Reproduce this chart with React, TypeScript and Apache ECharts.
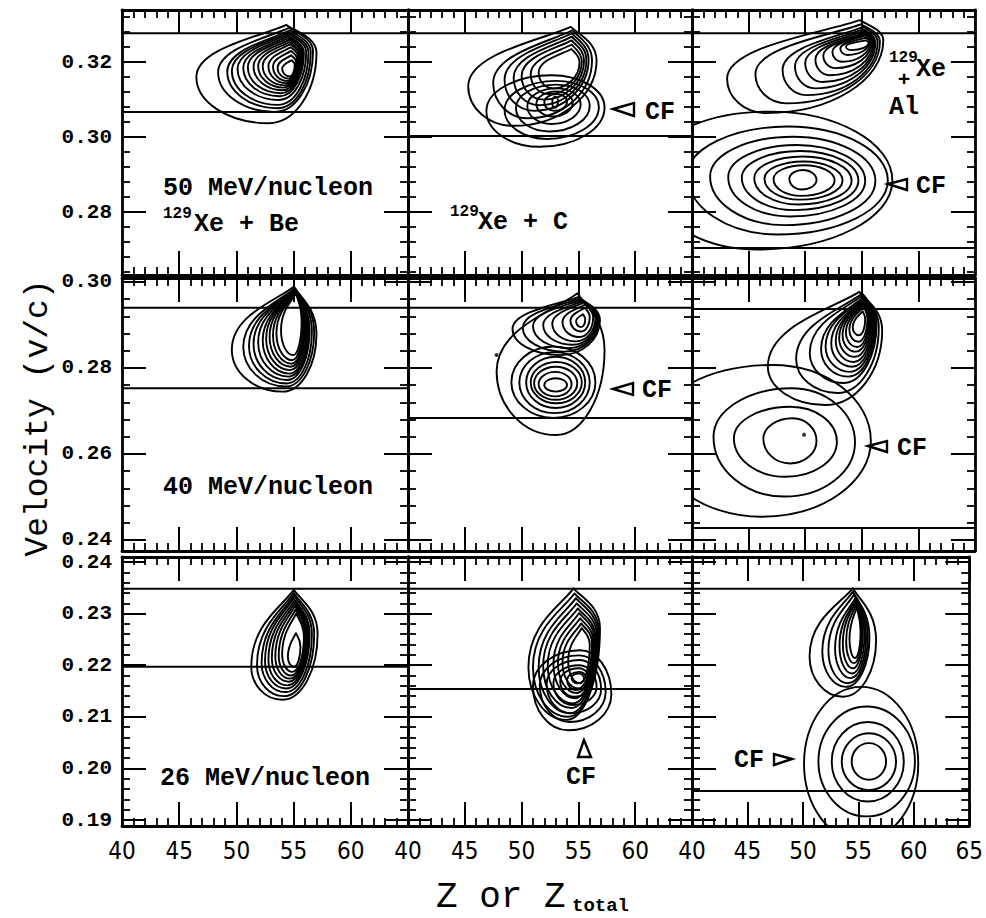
import React, { useEffect, useRef } from "react";
import * as echarts from "echarts";

// ---- axis values ----
const zMin = 40;
const zMax = 65;
const zStep = 5;

// velocity range of each row (50, 40, 26 MeV/nucleon)
const vRange = [
  [0.2632, 0.3339],
  [0.23744, 0.30093],
  [0.18884, 0.24097],
];
const vMajor = [
  [0.28, 0.3, 0.32],
  [0.24, 0.26, 0.28, 0.3],
  [0.19, 0.2, 0.21, 0.22, 0.23, 0.24],
];
const vMinorStep = [0.004, 0.004, 0.002];

const beamLabels = ["50 MeV/nucleon", "40 MeV/nucleon", "26 MeV/nucleon"];

// horizontal velocity markers, [row][column]
const vLines = [
  [[0.3277, 0.3067], [0.3277, 0.3003], [0.3277, 0.2704]],
  [[0.294, 0.2753], [0.294, 0.2684], [0.2937, 0.2428]],
  [[0.2348, 0.2197], [0.2348, 0.2154], [0.2348, 0.1956]],
];

// ---- contour rings: [Z left, Z right, v bottom, v top] ----
const xeBe50 = [
  [46.5, 57.0, 0.3037, 0.3299],
  [48.4, 56.7, 0.3067, 0.3292],
  [49.2, 56.5, 0.3077, 0.3285],
  [49.6, 56.3, 0.3086, 0.328],
  [50.1, 56.1, 0.3099, 0.3275],
  [50.6, 55.9, 0.3109, 0.327],
  [51.0, 55.8, 0.3117, 0.3265],
  [51.5, 55.7, 0.3125, 0.326],
  [51.9, 55.6, 0.3132, 0.3254],
  [52.3, 55.5, 0.3138, 0.3248],
  [52.8, 55.4, 0.3144, 0.324],
  [53.2, 55.3, 0.315, 0.323],
  [53.6, 55.2, 0.3156, 0.3218],
  [54.0, 55.1, 0.3162, 0.3205],
];
const xeCPlf50 = [
  [45.3, 56.6, 0.303, 0.3294],
  [47.5, 56.2, 0.305, 0.3285],
  [48.5, 55.9, 0.307, 0.3277],
  [49.3, 55.7, 0.3085, 0.3268],
  [50.0, 55.5, 0.31, 0.3258],
  [50.8, 55.3, 0.3115, 0.3247],
  [51.5, 55.1, 0.313, 0.3235],
];
const xeCCf50 = [
  [46.9, 57.3, 0.2974, 0.3165],
  [48.5, 56.8, 0.2995, 0.315],
  [49.5, 56.0, 0.3015, 0.314],
  [50.5, 55.2, 0.3035, 0.313],
  [51.3, 54.5, 0.3055, 0.3122],
  [52.0, 54.0, 0.307, 0.3115],
  [52.7, 53.2, 0.3078, 0.3108],
];
const xeAlPlf50 = [
  [43.1, 56.9, 0.3064, 0.3312],
  [45.6, 56.6, 0.309, 0.3301],
  [48.0, 56.4, 0.3112, 0.3294],
  [49.1, 56.2, 0.313, 0.3288],
  [50.0, 56.1, 0.3147, 0.3283],
  [50.9, 56.0, 0.3165, 0.3278],
  [51.6, 55.9, 0.3184, 0.3274],
  [52.4, 55.8, 0.3201, 0.3271],
  [53.1, 55.7, 0.3219, 0.3265],
  [53.6, 55.6, 0.3232, 0.3258],
];
const xeAlCf50 = [
  [36.0, 57.7, 0.27, 0.3068],
  [39.6, 57.3, 0.274, 0.3028],
  [41.6, 56.2, 0.2765, 0.3001],
  [43.2, 55.3, 0.2788, 0.2979],
  [44.4, 54.7, 0.2805, 0.2963],
  [45.5, 54.1, 0.282, 0.2948],
  [46.4, 53.3, 0.2833, 0.2935],
  [47.2, 52.6, 0.2843, 0.2925],
  [48.6, 51.0, 0.286, 0.2912],
];

const xeBe40 = [
  [49.6, 57.0, 0.2745, 0.2989],
  [50.6, 56.8, 0.2757, 0.2986],
  [51.1, 56.6, 0.2764, 0.2984],
  [51.5, 56.4, 0.2772, 0.2982],
  [51.9, 56.3, 0.278, 0.298],
  [52.3, 56.2, 0.2787, 0.2979],
  [52.6, 56.1, 0.2795, 0.2978],
  [52.9, 56.0, 0.2803, 0.2977],
  [53.2, 55.9, 0.281, 0.2976],
  [53.5, 55.8, 0.2818, 0.2975],
  [53.9, 55.7, 0.283, 0.2974],
];
const xeCPlf40 = [
  [47.8, 57.3, 0.2644, 0.2974],
  [49.2, 56.9, 0.283, 0.2965],
  [50.1, 56.8, 0.2838, 0.2962],
  [51.0, 56.7, 0.2846, 0.2959],
  [51.9, 56.6, 0.2854, 0.2956],
  [52.7, 56.5, 0.2862, 0.2953],
  [53.6, 56.3, 0.2872, 0.2948],
  [54.3, 56.0, 0.2885, 0.294],
  [54.8, 55.6, 0.2895, 0.2925],
];
const xeCCf40 = [
  [49.1, 56.5, 0.2684, 0.285],
  [49.8, 56.0, 0.2695, 0.2837],
  [50.4, 55.6, 0.2707, 0.2826],
  [50.8, 55.3, 0.2718, 0.2814],
  [51.1, 54.9, 0.2726, 0.2803],
  [51.5, 54.4, 0.2734, 0.2791],
  [52.0, 54.0, 0.2745, 0.2776],
];
const xeAlPlf40 = [
  [46.7, 56.8, 0.2714, 0.2977],
  [49.2, 56.5, 0.2742, 0.2973],
  [50.4, 56.3, 0.2765, 0.297],
  [51.4, 56.2, 0.278, 0.2967],
  [51.8, 56.1, 0.2791, 0.2964],
  [52.3, 56.0, 0.2803, 0.2961],
  [52.7, 55.9, 0.2814, 0.2958],
  [53.0, 55.8, 0.2826, 0.2955],
  [53.3, 55.7, 0.2838, 0.2951],
  [53.6, 55.6, 0.2849, 0.2947],
  [53.9, 55.5, 0.2861, 0.2942],
  [54.2, 55.3, 0.2876, 0.2932],
];
const xeAlCf40 = [
  [36.5, 55.8, 0.2454, 0.2807],
  [41.9, 54.4, 0.2501, 0.2753],
  [43.7, 52.8, 0.2547, 0.271],
  [46.3, 51.0, 0.2578, 0.2683],
];

const xeBe26 = [
  [51.3, 57.1, 0.2133, 0.2346],
  [51.8, 56.8, 0.214, 0.234],
  [52.2, 56.6, 0.2148, 0.2335],
  [52.5, 56.4, 0.2155, 0.233],
  [52.8, 56.3, 0.2161, 0.2325],
  [53.1, 56.2, 0.2168, 0.232],
  [53.4, 56.1, 0.2174, 0.2315],
  [53.7, 56.0, 0.218, 0.2308],
  [54.0, 55.9, 0.2187, 0.23],
  [54.5, 55.6, 0.2197, 0.2262],
];
const xeCPlf26 = [
  [50.6, 56.9, 0.2094, 0.2349],
  [51.0, 56.8, 0.21, 0.2339],
  [51.5, 56.7, 0.2107, 0.233],
  [51.9, 56.6, 0.2117, 0.232],
  [52.3, 56.5, 0.2126, 0.231],
  [52.8, 56.4, 0.2136, 0.2301],
  [53.2, 56.3, 0.2146, 0.2291],
  [53.6, 56.2, 0.2155, 0.2281],
  [54.1, 56.0, 0.2165, 0.2272],
];
const xeCCf26 = [
  [51.0, 57.9, 0.2074, 0.2229],
  [51.6, 57.4, 0.209, 0.2219],
  [52.2, 57.0, 0.2107, 0.221],
  [52.8, 56.6, 0.2123, 0.22],
  [53.4, 56.1, 0.2139, 0.2194],
  [54.0, 55.8, 0.2152, 0.2187],
  [54.4, 55.5, 0.2165, 0.2184],
];
const xeAlPlf26 = [
  [50.6, 56.6, 0.2139, 0.2349],
  [51.75, 56.0, 0.2158, 0.2343],
  [52.3, 55.85, 0.2165, 0.2337],
  [52.9, 55.7, 0.2175, 0.233],
  [53.3, 55.55, 0.2184, 0.2327],
  [53.6, 55.4, 0.2194, 0.2323],
  [53.9, 55.3, 0.2204, 0.2318],
  [54.2, 55.2, 0.2214, 0.2312],
];
const xeAlCf26 = [
  [50.1, 60.4, 0.186, 0.2158],
  [51.4, 60.1, 0.1907, 0.212],
  [52.6, 59.1, 0.1936, 0.209],
  [53.5, 58.4, 0.1958, 0.2068],
  [54.4, 57.5, 0.1978, 0.2049],
];

// centroid dots [Z, v]
const dots40C = [[47.8, 0.283]];
const dots40Al = [[49.9, 0.2645]];

// ---- drawing ----
type Shape = { ft: number; fb: number; gl: number; gr: number; ta: number; tb: number };
const pointed = (ft: number, fb: number, gl: number, gr: number): Shape => ({ ft, fb, gl, gr, ta: 0.28, tb: 0.22 });
const rounded = (ft: number, fb: number, gl: number, gr: number): Shape => ({ ft, fb, gl, gr, ta: 0.55, tb: 0 });

const families: { row: number; col: number; rings: number[][]; shape: Shape }[] = [
  { row: 0, col: 0, rings: xeBe50, shape: pointed(0.75, 0.6, 0.47, 0.72) },
  { row: 0, col: 1, rings: xeCCf50, shape: rounded(0.55, 0.45, 0.5, 0.55) },
  { row: 0, col: 1, rings: xeCPlf50, shape: pointed(0.8, 0.35, 0.4, 0.66) },
  { row: 0, col: 2, rings: xeAlCf50, shape: rounded(0.5, 0.45, 0.55, 0.5) },
  { row: 0, col: 2, rings: xeAlPlf50, shape: pointed(0.85, 0.25, 0.37, 0.78) },
  { row: 1, col: 0, rings: xeBe40, shape: pointed(0.73, 0.6, 0.4, 0.55) },
  { row: 1, col: 1, rings: xeCCf40, shape: rounded(0.5, 0.5, 0.5, 0.5) },
  { row: 1, col: 1, rings: xeCPlf40, shape: pointed(0.75, 0.55, 0.45, 0.6) },
  { row: 1, col: 2, rings: xeAlCf40, shape: rounded(0.55, 0.5, 0.55, 0.5) },
  { row: 1, col: 2, rings: xeAlPlf40, shape: pointed(0.8, 0.5, 0.34, 0.66) },
  { row: 2, col: 0, rings: xeBe26, shape: pointed(0.64, 0.47, 0.3, 0.6) },
  { row: 2, col: 1, rings: xeCCf26, shape: rounded(0.6, 0.45, 0.55, 0.45) },
  { row: 2, col: 1, rings: xeCPlf26, shape: pointed(0.63, 0.53, 0.4, 0.7) },
  { row: 2, col: 2, rings: xeAlCf26, shape: rounded(0.5, 0.5, 0.5, 0.5) },
  { row: 2, col: 2, rings: xeAlPlf26, shape: pointed(0.65, 0.5, 0.37, 0.52) },
];

const colBox = [
  { left: 122, width: 286 },
  { left: 408, width: 284 },
  { left: 692, width: 283 },
];
const rowBox = [
  { top: 10, height: 265 },
  { top: 278, height: 273 },
  { top: 557, height: 269 },
];

const INK = "#000";
const MONO = "'Liberation Mono', 'DejaVu Sans Mono', monospace";
const NARROW = "'Liberation Sans Narrow', 'DejaVu Sans Condensed', 'Liberation Sans', sans-serif";

function ringRenderer(s: Shape) {
  return (_params: any, api: any) => {
    const zL = api.value(0);
    const zR = api.value(1);
    const vB = api.value(2);
    const vT = api.value(3);
    const T = api.coord([zL + s.ft * (zR - zL), vT]);
    const R = api.coord([zR, vB + s.gr * (vT - vB)]);
    const B = api.coord([zL + s.fb * (zR - zL), vB]);
    const L = api.coord([zL, vB + s.gl * (vT - vB)]);
    const k = 0.55;
    const P = (p: number[]) => `${p[0].toFixed(2)},${p[1].toFixed(2)}`;
    const c1 = [T[0] + s.ta * (R[0] - T[0]), T[1] + s.tb * (R[1] - T[1])];
    const c2 = [R[0], R[1] - k * (R[1] - T[1])];
    const c3 = [R[0], R[1] + k * (B[1] - R[1])];
    const c4 = [B[0] + k * (R[0] - B[0]), B[1]];
    const c5 = [B[0] - k * (B[0] - L[0]), B[1]];
    const c6 = [L[0], L[1] + k * (B[1] - L[1])];
    const c7 = [L[0], L[1] - k * (L[1] - T[1])];
    const c8 = [T[0] + s.ta * (L[0] - T[0]), T[1] + s.tb * (L[1] - T[1])];
    const d =
      `M${P(T)}C${P(c1)} ${P(c2)} ${P(R)}` +
      `C${P(c3)} ${P(c4)} ${P(B)}` +
      `C${P(c5)} ${P(c6)} ${P(L)}` +
      `C${P(c7)} ${P(c8)} ${P(T)}Z`;
    return {
      type: "path",
      shape: { pathData: d },
      style: { fill: "none", stroke: INK, lineWidth: 1.9, lineJoin: "round" },
    };
  };
}

function minorValues(r: number): number[] {
  const step = vMinorStep[r];
  const [lo, hi] = vRange[r];
  const out: number[] = [];
  for (let i = Math.ceil(lo / step - 1e-9); i * step <= hi + 1e-9; i++) {
    out.push(Math.round(i * step * 10000) / 10000);
  }
  return out;
}

function buildOption() {
  const grid: any[] = [];
  const xAxis: any[] = [];
  const yAxis: any[] = [];
  const series: any[] = [];

  for (let r = 0; r < 3; r++) {
    for (let c = 0; c < 3; c++) {
      const g = r * 3 + c;
      grid.push({ left: colBox[c].left, top: rowBox[r].top, width: colBox[c].width, height: rowBox[r].height });
      const frame = { show: true, onZero: false, lineStyle: { color: INK, width: 2.8 } };
      const xBase = {
        gridIndex: g,
        type: "value",
        min: zMin,
        max: zMax,
        interval: zStep,
        splitLine: { show: false },
        axisLine: frame,
        axisTick: { show: true, inside: true, length: 24, lineStyle: { color: INK, width: 2 } },
        minorTick: { show: true, splitNumber: 5, length: 8, lineStyle: { color: INK, width: 1.8 } },
        minorSplitLine: { show: false },
      };
      xAxis.push({
        ...xBase,
        position: "bottom",
        axisLabel: {
          show: r === 2,
          margin: 13,
          color: INK,
          fontSize: 24,
          fontFamily: NARROW,
          showMinLabel: true,
          showMaxLabel: c === 2,
        },
      });
      xAxis.push({ ...xBase, position: "top", axisLabel: { show: false } });

      const [vMin, vMax] = vRange[r];
      const majors = vMajor[r];
      const minors = minorValues(r);
      const yBase = { gridIndex: g, type: "value", min: vMin, max: vMax, splitLine: { show: false } };
      yAxis.push({
        ...yBase,
        position: "left",
        axisLine: frame,
        axisTick: { show: true, inside: true, length: 24, customValues: majors, lineStyle: { color: INK, width: 2 } },
        axisLabel: {
          show: c === 0,
          customValues: majors,
          formatter: (v: number) => v.toFixed(2),
          margin: 10,
          color: INK,
          fontSize: 21,
          fontWeight: "bold",
          fontFamily: MONO,
        },
      });
      yAxis.push({
        ...yBase,
        position: "left",
        axisLine: { show: false },
        axisTick: { show: true, inside: true, length: 8, customValues: minors, lineStyle: { color: INK, width: 1.8 } },
        axisLabel: { show: false },
      });
      yAxis.push({
        ...yBase,
        position: "right",
        axisLine: frame,
        axisTick: { show: true, inside: true, length: 24, customValues: majors, lineStyle: { color: INK, width: 2 } },
        axisLabel: { show: false },
      });
      yAxis.push({
        ...yBase,
        position: "right",
        axisLine: { show: false },
        axisTick: { show: true, inside: true, length: 8, customValues: minors, lineStyle: { color: INK, width: 1.8 } },
        axisLabel: { show: false },
      });

      for (const v of vLines[r][c]) {
        series.push({
          type: "line",
          xAxisIndex: 2 * g,
          yAxisIndex: 4 * g,
          data: [[zMin, v], [zMax, v]],
          symbol: "none",
          silent: true,
          lineStyle: { color: INK, width: 2 },
        });
      }
    }
  }

  for (const f of families) {
    const g = f.row * 3 + f.col;
    series.push({
      type: "custom",
      coordinateSystem: "cartesian2d",
      xAxisIndex: 2 * g,
      yAxisIndex: 4 * g,
      data: f.rings,
      encode: { x: [0, 1], y: [2, 3] },
      clip: true,
      silent: true,
      renderItem: ringRenderer(f.shape),
    });
  }

  const dotSets = [
    { g: 4, pts: dots40C },
    { g: 5, pts: dots40Al },
  ];
  for (const d of dotSets) {
    series.push({
      type: "scatter",
      xAxisIndex: 2 * d.g,
      yAxisIndex: 4 * d.g,
      data: d.pts,
      symbolSize: 4,
      silent: true,
      itemStyle: { color: INK },
    });
  }

  const txt = (x: number, y: number, text: string, size: number, extra: any = {}) => ({
    type: "text",
    x,
    y,
    silent: true,
    style: {
      text,
      fill: INK,
      fontSize: size,
      fontFamily: MONO,
      fontWeight: "bold",
      align: "left",
      verticalAlign: "middle",
      ...extra,
    },
  });
  const tri = (pts: number[][]) => ({
    type: "polygon",
    silent: true,
    shape: { points: pts },
    style: { fill: "#fff", stroke: INK, lineWidth: 2.4, lineJoin: "miter" },
  });

  const graphic: any[] = [
    // beam energies and systems
    txt(163, 188, beamLabels[0], 25),
    txt(163, 214, "129", 16),
    txt(194, 224, "Xe + Be", 25),
    txt(450, 212, "129", 16),
    txt(478, 222, "Xe + C", 25),
    txt(889, 58, "129", 16),
    txt(916, 69, "Xe", 25),
    txt(904, 80, "+", 21, { align: "center" }),
    txt(889, 107, "Al", 25),
    txt(163, 487, beamLabels[1], 25),
    txt(160, 778, beamLabels[2], 25),
    // complete-fusion markers
    tri([[613, 109], [634, 103], [634, 116]]),
    txt(645, 112, "CF", 25),
    tri([[888, 184], [907, 179], [907, 190]]),
    txt(916, 186, "CF", 25),
    tri([[613, 389], [633, 383], [633, 395]]),
    txt(642, 390, "CF", 25),
    tri([[868, 446], [887, 441], [887, 452]]),
    txt(897, 448, "CF", 25),
    tri([[584, 740], [578, 757], [591, 757]]),
    txt(581, 777, "CF", 25, { align: "center" }),
    tri([[792, 759], [774, 754], [774, 765]]),
    txt(734, 760, "CF", 25),
    // axis titles
    {
      type: "text",
      x: 38,
      y: 418,
      rotation: Math.PI / 2,
      silent: true,
      style: {
        text: "Velocity (v/c)",
        fill: INK,
        fontSize: 33,
        fontFamily: MONO,
        align: "center",
        verticalAlign: "middle",
      },
    },
    txt(436, 897, "Z or Z", 36, { fontWeight: "normal" }),
    txt(572, 906, "total", 19),
  ];

  return {
    animation: false,
    backgroundColor: "#fff",
    grid,
    xAxis,
    yAxis,
    series,
    graphic: { elements: graphic },
  };
}

export default function App() {
  const ref = useRef<HTMLDivElement>(null);
  useEffect(() => {
    document.body.style.margin = "0";
    if (!ref.current) return;
    const chart = echarts.init(ref.current, undefined, { renderer: "svg" });
    chart.setOption(buildOption() as any);
    return () => chart.dispose();
  }, []);
  return <div ref={ref} style={{ width: 986, height: 918, background: "#fff" }} />;
}
